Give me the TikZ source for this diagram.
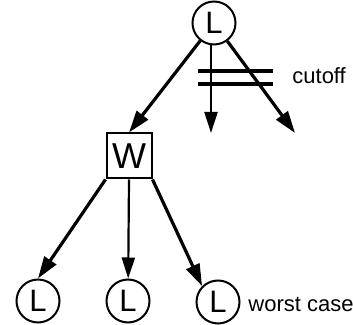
\documentclass[tikz,border=0pt]{standalone}
\usepackage{fontspec}
\setmainfont{Liberation Sans}
\usetikzlibrary{arrows.meta}
\tikzset{
	lnode/.style={draw, circle, line width=1pt, minimum size=21.5pt, inner sep=0pt, font=\fontsize{15.5}{16}\selectfont},
	wnode/.style={draw, rectangle, line width=1pt, minimum size=22.5pt, inner sep=0pt, font=\fontsize{18}{18}\selectfont},
	move/.style={line width=1.6pt, -{Triangle[length=11pt,width=7pt]}},
	thinmove/.style={line width=1.1pt, -{Triangle[length=10.5pt,width=6.5pt]}},
	lbl/.style={anchor=base west, inner sep=0pt, font=\fontsize{11}{13}\selectfont}
}
\begin{document}
\begin{tikzpicture}[x=0.5pt, y=-0.5pt]
			%%%%% START %%%%%
			\useasboundingbox (0, 0) rectangle (353, 325);
			
			\node[lnode] (root) at (214, 23) {L};
			\node[wnode] (w) at (129, 156) {W};
			\node[lnode] (l1) at (38, 301) {L};
			\node[lnode] (l2) at (128, 301) {L};
			\node[lnode] (l3) at (218, 302) {L};
			
			\coordinate (cutA) at (210, 133);
			\coordinate (cutB) at (295, 133);
			
			\draw[move] (root) -- (w.north);
			\draw[thinmove] (root.south) ++(-3, 0) coordinate (rs) -- (rs |- cutA);
			\draw[move] (root) -- (cutB);
			
			\draw[line width=1.6pt] (198, 71) -- (273, 71);
			\draw[line width=1.6pt] (198, 84) -- (273, 84);
			\node[lbl] (cut) at (292, 84) {cutoff};
			
			\draw[move] (w.south west) -- (l1.north);
			\draw[thinmove] (w.south) -- (l2);
			\draw[move] (w.south east) -- (l3.north west);
			
			\node[lbl] (worst) at (248, 312) {worst case};
			%%%%% END %%%%%
\end{tikzpicture}
\end{document}
